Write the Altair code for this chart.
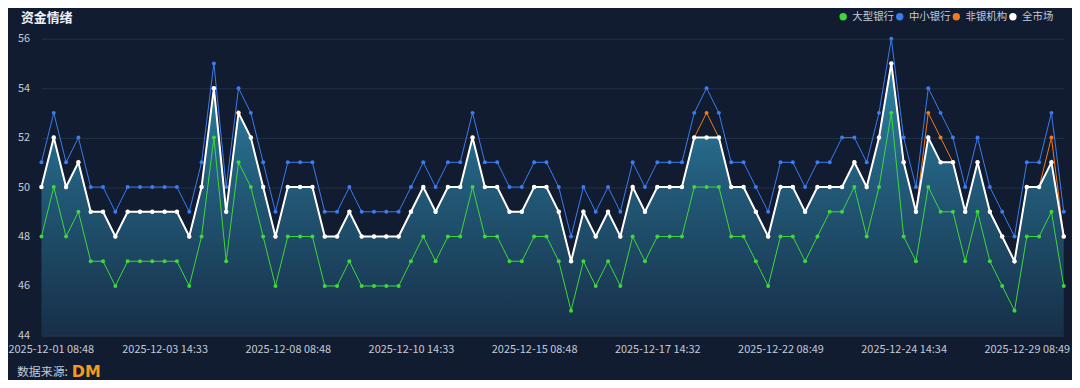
import json
import pandas as pd
import altair as alt

# ---------------- data ----------------
series_names = ["大型银行", "中小银行", "非银机构", "全市场"]
series_colors = ["#3fd83a", "#3b7cf0", "#f07a1c", "#ffffff"]

large_bank = [48, 50, 48, 49, 47, 47, 46, 47, 47, 47, 47, 47, 46, 48, 52, 47, 51, 50, 48, 46,
              48, 48, 48, 46, 46, 47, 46, 46, 46, 46, 47, 48, 47, 48, 48, 50, 48, 48, 47, 47,
              48, 48, 47, 45, 47, 46, 47, 46, 48, 47, 48, 48, 48, 50, 50, 50, 48, 48, 47, 46,
              48, 48, 47, 48, 49, 49, 50, 48, 50, 53, 48, 47, 50, 49, 49, 47, 49, 47, 46, 45,
              48, 48, 49, 46]
small_bank = [51, 53, 51, 52, 50, 50, 49, 50, 50, 50, 50, 50, 49, 51, 55, 50, 54, 53, 51, 49,
              51, 51, 51, 49, 49, 50, 49, 49, 49, 49, 50, 51, 50, 51, 51, 53, 51, 51, 50, 50,
              51, 51, 50, 48, 50, 49, 50, 49, 51, 50, 51, 51, 51, 53, 54, 53, 51, 51, 50, 49,
              51, 51, 50, 51, 51, 52, 52, 51, 53, 56, 52, 50, 54, 53, 52, 50, 52, 50, 49, 48,
              51, 51, 53, 49]
non_bank = [50, 52, 50, 51, 49, 49, 48, 49, 49, 49, 49, 49, 48, 50, 54, 49, 53, 52, 50, 48,
            50, 50, 50, 48, 48, 49, 48, 48, 48, 48, 49, 50, 49, 50, 50, 52, 50, 50, 49, 49,
            50, 50, 49, 47, 49, 48, 49, 48, 50, 49, 50, 50, 50, 52, 53, 52, 50, 50, 49, 48,
            50, 50, 49, 50, 50, 50, 51, 50, 52, 55, 51, 49, 53, 52, 51, 49, 51, 49, 48, 47,
            50, 50, 52, 48]
whole_market = [50, 52, 50, 51, 49, 49, 48, 49, 49, 49, 49, 49, 48, 50, 54, 49, 53, 52, 50, 48,
                50, 50, 50, 48, 48, 49, 48, 48, 48, 48, 49, 50, 49, 50, 50, 52, 50, 50, 49, 49,
                50, 50, 49, 47, 49, 48, 49, 48, 50, 49, 50, 50, 50, 52, 52, 52, 50, 50, 49, 48,
                50, 50, 49, 50, 50, 50, 51, 50, 52, 55, 51, 49, 52, 51, 51, 49, 51, 49, 48, 47,
                50, 50, 51, 48]

tick_index = [0, 10, 20, 30, 40, 50, 60, 70, 80]
tick_labels = ["2025-12-01 08:48", "2025-12-03 14:33", "2025-12-08 08:48",
               "2025-12-10 14:33", "2025-12-15 08:48", "2025-12-17 14:32",
               "2025-12-22 08:49", "2025-12-24 14:34", "2025-12-29 08:49"]
y_ticks = [44, 46, 48, 50, 52, 54, 56]

title_text = "资金情绪"
footer_text = "数据来源:"
logo_text = "DM"

# ---------------- build table ----------------
rows = []
for name, vals in zip(series_names, [large_bank, small_bank, non_bank, whole_market]):
    for i, v in enumerate(vals):
        rows.append({"idx": i, "series": name, "value": v})
df = pd.DataFrame(rows)
n = len(whole_market)

FONT = "Noto Sans CJK SC"
BG = "#111c30"
LABEL = "#c3cad6"

df_gb = df[df.series.isin(["大型银行", "中小银行"])]
df_or = df[df.series == "非银机构"]
df_wm = df[df.series == "全市场"]

label_expr = f"{json.dumps(tick_labels)}[indexof({json.dumps(tick_index)}, datum.value)]"

x_enc = alt.X(
    "idx:Q",
    scale=alt.Scale(domain=[0, n - 1], nice=False, zero=False),
    axis=alt.Axis(
        values=tick_index, labelExpr=label_expr, grid=False, ticks=False,
        domain=True, domainColor="#2e3d54", labelColor=LABEL, labelFontSize=11,
        labelFont=FONT, labelPadding=8, labelFlush=False,
        labelAlign={"condition": {"test": "datum.value == 0", "value": "left"}, "value": "center"},
        labelOffset={"condition": {"test": "datum.value == 0", "value": -33.7}, "value": 0},
        title=None,
    ),
)
y_enc = alt.Y(
    "value:Q",
    scale=alt.Scale(domain=[44, 56], nice=False, zero=False),
    axis=alt.Axis(
        values=y_ticks, grid=True, gridColor="#233248", gridWidth=1, domain=False,
        ticks=False, labelColor=LABEL, labelFontSize=11, labelFont=FONT,
        labelPadding=12, title=None,
    ),
)

color_scale = alt.Scale(domain=series_names, range=series_colors)

legend = alt.Legend(
    orient="none", legendX=802.5, legendY=-27.5, direction="horizontal",
    title=None, symbolType="circle", symbolSize=55, symbolStrokeWidth=0,
    labelColor=LABEL, labelFontSize=10.5, labelFont=FONT, labelOffset=4,
    columnPadding=0,
)

gradient = alt.Gradient(
    gradient="linear", x1=0, y1=0, x2=0, y2=1,
    stops=[alt.GradientStop(color="#2d84a6", offset=0),
           alt.GradientStop(color="#225a78", offset=0.45),
           alt.GradientStop(color="#172f48", offset=1)],
)

area = alt.Chart(df_wm).mark_area(color=gradient, opacity=1).encode(
    x=x_enc, y=y_enc, y2=alt.datum(44)
)

def line_layer(data, width):
    return alt.Chart(data).mark_line(strokeWidth=width).encode(
        x=x_enc, y=y_enc,
        stroke=alt.Stroke("series:N", scale=color_scale, legend=legend),
    )

def point_layer(data, size):
    return alt.Chart(data).mark_point(filled=True, size=size, opacity=1).encode(
        x=x_enc, y=y_enc,
        fill=alt.Fill("series:N", scale=color_scale, legend=legend),
    )

title_df = pd.DataFrame({"t": [title_text]})
footer_df = pd.DataFrame({"t": [footer_text]})
logo_df = pd.DataFrame({"t": [logo_text]})
title = alt.Chart(title_df).mark_text(
    align="left", baseline="middle", fontSize=13, font=FONT, fontWeight="bold",
    color="#eef2f7"
).encode(x=alt.value(-20.7), y=alt.value(-21), text="t:N")
footer = alt.Chart(footer_df).mark_text(
    align="left", baseline="middle", fontSize=12, font=FONT, color=LABEL
).encode(x=alt.value(-24.7), y=alt.value(335.5), text="t:N")
logo = alt.Chart(logo_df).mark_text(
    align="left", baseline="middle", fontSize=16, font="DejaVu Sans", fontWeight="bold",
    color="#f59a1e"
).encode(x=alt.value(30.5), y=alt.value(335.5), text="t:N")

chart = alt.layer(
    area,
    line_layer(df_gb, 1),
    point_layer(df_gb, 16),
    line_layer(df_or, 1),
    point_layer(df_or, 16),
    line_layer(df_wm, 2),
    point_layer(df_wm, 20),
    title,
    footer,
    logo,
).resolve_scale(fill="shared", stroke="shared").properties(
    width=1030,
    height=299,
    autosize=alt.AutoSizeParams(type="none"),
    padding={"left": 33.7, "top": 29.5, "right": 8.3, "bottom": 43.5},
    background=BG,
).configure_view(stroke=None)

chart.save("out.html", embed_options={"renderer": "svg", "actions": False})
